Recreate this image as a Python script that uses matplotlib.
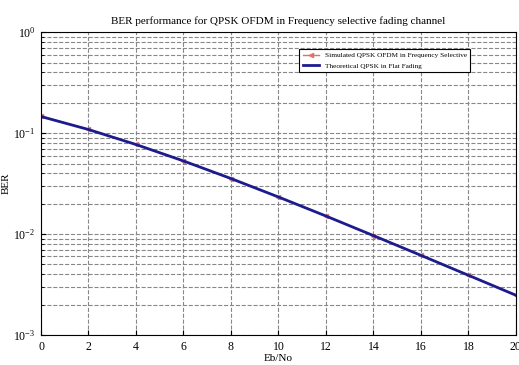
import matplotlib
matplotlib.use('Agg')
import matplotlib.pyplot as plt

# Eb/No points (dB)
ebno = [0, 2, 4, 6, 8, 10, 12, 14, 16, 18, 20]
ber_sim = [0.147, 0.109, 0.0775, 0.0532, 0.0354, 0.0234, 0.0150, 0.00965, 0.00618, 0.00390, 0.00249]
ber_theory = [0.146, 0.1085, 0.0771, 0.0530, 0.0355, 0.0233, 0.0151, 0.00966, 0.00616, 0.00391, 0.00248]

plt.rcParams['font.family'] = ['Liberation Serif', 'DejaVu Serif']

fig = plt.figure(figsize=(5.19, 3.65), dpi=100)
ax = fig.add_axes([0.079, 0.082, 0.915, 0.83])

ax.semilogy(ebno, ber_sim, color='#e07070', marker='<', markersize=3, linewidth=1,
            label='Simulated QPSK OFDM in Frequency Selective')
ax.semilogy(ebno, ber_theory, color='#1c1c8f', linewidth=2,
            label='Theoretical QPSK in Flat Fading')

ax.set_xlim(0, 20)
ax.set_ylim(1e-3, 1)
ax.set_xticks(range(0, 21, 2))
ax.grid(True, which='both', linestyle='--', color='#888888', linewidth=0.8)
ax.tick_params(labelsize=8.5, direction='in', which='both', pad=4)

ax.set_title('BER performance for QPSK OFDM in Frequency selective fading channel', fontsize=8)
ax.set_xlabel('Eb/No', fontsize=8, labelpad=1)
ax.set_ylabel('BER', fontsize=8, labelpad=2)

leg = ax.legend(loc='upper right', bbox_to_anchor=(0.912, 0.957), fontsize=5.2,
                frameon=True, fancybox=False, edgecolor='black', framealpha=1,
                handlelength=2.2, borderpad=0.5, labelspacing=0.6)
leg.get_frame().set_linewidth(0.8)

fig.savefig('out.png', dpi=100)
